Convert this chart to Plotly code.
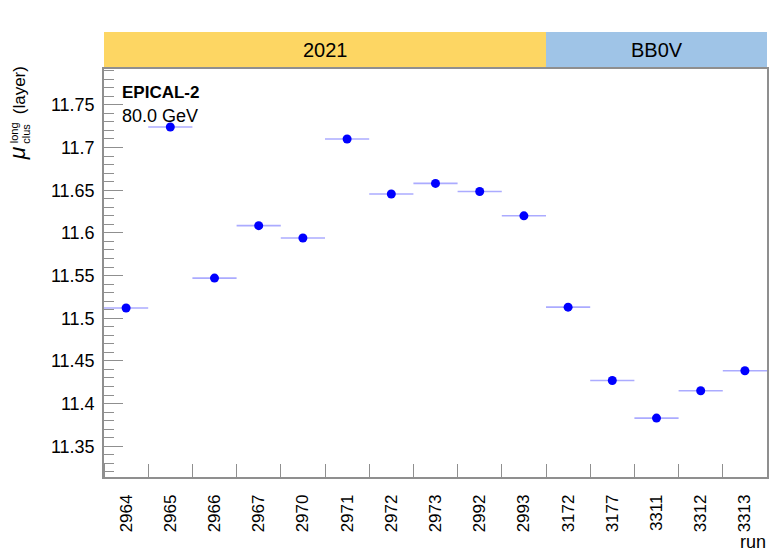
import plotly.graph_objects as go

# ---- data ----
runs = ["2964", "2965", "2966", "2967", "2970", "2971", "2972", "2973", "2992", "2993",
        "3172", "3177", "3311", "3312", "3313"]
mu_long = [11.512, 11.724, 11.547, 11.6085, 11.594, 11.710, 11.6455, 11.658, 11.6485, 11.620,
           11.513, 11.427, 11.383, 11.415, 11.4385]
periods = ["2021", "BB0V"]
period_counts = [10, 5]
period_colors = ["#FDD663", "#9FC4E7"]
y_range = [11.314, 11.792]

W, H = 773, 553
ML, MR, MT, MB = 104, 4, 69, 76
PW, PH = W - ML - MR, H - MT - MB

def px_x(px):
    return (px - ML) / PW

def px_y(py):
    return (H - MB - py) / PH

FONT = "Liberation Sans, Arial, Helvetica, sans-serif"
GRAY = "#8f8f8f"

xpos = list(range(len(runs)))

fig = go.Figure()
fig.add_trace(go.Scatter(
    x=xpos, y=mu_long, mode="markers",
    marker=dict(color="#0000ff", size=9, symbol="circle"),
    error_x=dict(type="constant", value=0.5, color="rgba(0,0,255,0.33)",
                 thickness=1.6, width=0),
    customdata=runs, hovertemplate="run %{customdata}: %{y}<extra></extra>",
    showlegend=False,
))

shapes = []
annotations = []
total = sum(period_counts)
start = 0
band_y0, band_y1 = 1.0, px_y(32)
for name, cnt, col in zip(periods, period_counts, period_colors):
    x0 = start / total
    x1 = (start + cnt) / total
    shapes.append(dict(type="rect", xref="paper", yref="paper", x0=x0, x1=x1,
                       y0=band_y0, y1=band_y1, fillcolor=col, line=dict(width=0),
                       layer="below"))
    annotations.append(dict(text=name, xref="paper", yref="paper", x=(x0 + x1) / 2,
                            y=(band_y0 + band_y1) / 2, xanchor="center", yanchor="middle",
                            showarrow=False, font=dict(family=FONT, size=20, color="black")))
    start += cnt

# labels inside plot
annotations.append(dict(text="<b>EPICAL-2</b>", xref="paper", yref="paper",
                        x=px_x(120), y=px_y(92), xanchor="left", yanchor="middle",
                        showarrow=False, font=dict(family=FONT, size=17, color="black")))
annotations.append(dict(text="80.0 GeV", xref="paper", yref="paper",
                        x=px_x(120), y=px_y(116), xanchor="left", yanchor="middle",
                        showarrow=False, font=dict(family=FONT, size=18, color="black")))
# x title
annotations.append(dict(text="run", xref="paper", yref="paper",
                        x=px_x(770), y=px_y(542), xanchor="right", yanchor="middle",
                        showarrow=False, font=dict(family=FONT, size=18, color="black")))
# y title pieces
annotations.append(dict(text="(layer)", xref="paper", yref="paper",
                        x=px_x(19), y=px_y(90), xanchor="center", yanchor="middle",
                        textangle=-90, showarrow=False,
                        font=dict(family=FONT, size=17, color="black")))
annotations.append(dict(text="<i>μ</i>", xref="paper", yref="paper",
                        x=px_x(17), y=px_y(153), xanchor="center", yanchor="middle",
                        textangle=-90, showarrow=False,
                        font=dict(family=FONT, size=23, color="black")))
annotations.append(dict(text="long", xref="paper", yref="paper",
                        x=px_x(14), y=px_y(133), xanchor="center", yanchor="middle",
                        textangle=-90, showarrow=False,
                        font=dict(family=FONT, size=11, color="black")))
annotations.append(dict(text="clus", xref="paper", yref="paper",
                        x=px_x(25.5), y=px_y(134), xanchor="center", yanchor="middle",
                        textangle=-90, showarrow=False,
                        font=dict(family=FONT, size=11, color="black")))

fig.update_layout(
    width=W, height=H,
    margin=dict(l=ML, r=MR, t=MT, b=MB, pad=0),
    paper_bgcolor="white", plot_bgcolor="white",
    font=dict(family=FONT, size=18, color="black"),
    shapes=shapes, annotations=annotations,
    showlegend=False,
)
fig.update_xaxes(
    range=[-0.5, len(runs) - 0.5],
    tickmode="array", tickvals=xpos, ticktext=runs,
    showgrid=False, zeroline=False,
    showline=True, linecolor=GRAY, linewidth=1.5, mirror=True,
    ticks="", ticklen=0,
    tickangle=-90, tickfont=dict(family=FONT, size=17, color="black"),
    ticklabelstandoff=9,
    minor=dict(tick0=0.5, dtick=1, ticks="inside", ticklen=13, tickcolor=GRAY,
               tickwidth=1.2, showgrid=False),
)
fig.update_yaxes(
    range=y_range, dtick=0.05, tick0=11.3,
    showgrid=False, zeroline=False,
    showline=True, linecolor=GRAY, linewidth=1.5, mirror=True,
    ticks="inside", ticklen=19, tickcolor=GRAY, tickwidth=1.2,
    tickfont=dict(family=FONT, size=18, color="black"),
    ticklabelstandoff=4,
    minor=dict(dtick=0.01, ticks="inside", ticklen=10, tickcolor=GRAY, tickwidth=1.2,
               showgrid=False),
)

fig.write_html("out.html", config={"displayModeBar": False},
               post_script="document.body.style.margin='0';")
